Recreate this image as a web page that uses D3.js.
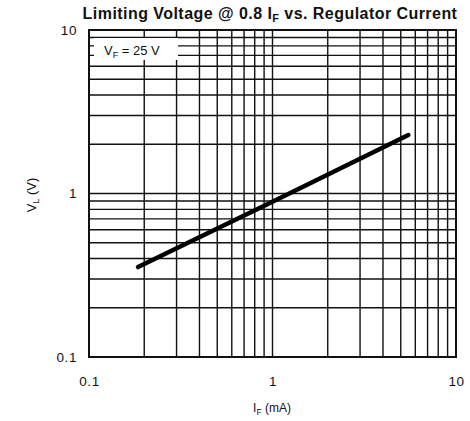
<!DOCTYPE html>
<html><head><meta charset="utf-8">
<script src="https://cdn.jsdelivr.net/npm/d3@7"></script>
<style>body{margin:0;background:#fff}</style>
</head><body>
<svg id="c" width="470" height="421"></svg>
<script>
const currentIF = [0.185, 1, 5.5];
const voltageVL = [0.355, 0.89, 2.28];
const xTicks = [0.1, 1, 10];
const yTicks = [0.1, 1, 10];
const xTickLabels = ["0.1", "1", "10"];
const yTickLabels = ["0.1", "1", "10"];

const svg = d3.select("#c");
const L = 89, R = 456, T = 30, B = 357;
const x = d3.scaleLog().domain([0.1, 10]).range([L, R]);
const y = d3.scaleLog().domain([0.1, 10]).range([B, T]);
const font = "Liberation Sans, Arial, sans-serif";

const gridVals = [];
for (const d of [0.1, 1]) for (let k = 1; k <= 10; k++) gridVals.push(+(d * k).toFixed(3));
const uniq = Array.from(new Set(gridVals));

const g = svg.append("g");
g.selectAll(".vx").data(uniq).join("line")
  .attr("x1", d => x(d)).attr("x2", d => x(d)).attr("y1", T).attr("y2", B)
  .attr("stroke", "#111").attr("stroke-width", 1.4);
g.selectAll(".hy").data(uniq).join("line")
  .attr("y1", d => y(d)).attr("y2", d => y(d)).attr("x1", L).attr("x2", R)
  .attr("stroke", "#111").attr("stroke-width", 1.4);

svg.append("rect").attr("x", 94).attr("y", 38).attr("width", 84).attr("height", 22).attr("fill", "#fff");
const lab = svg.append("text").attr("x", 104).attr("y", 55).attr("font-family", font).attr("font-size", 13).attr("fill", "#111");
lab.append("tspan").text("V");
lab.append("tspan").attr("font-size", 9).attr("dy", 3).text("F");
lab.append("tspan").attr("dy", -3).text(" = 25 V");

svg.append("rect").attr("x", L).attr("y", T).attr("width", R - L).attr("height", B - T)
  .attr("fill", "none").attr("stroke", "#111").attr("stroke-width", 2);

svg.append("path").datum(currentIF.map((d, i) => [d, voltageVL[i]]))
  .attr("d", d3.line().x(d => x(d[0])).y(d => y(d[1])))
  .attr("fill", "none").attr("stroke", "#000").attr("stroke-width", 4.5).attr("stroke-linecap", "round");

const xa = svg.append("g").attr("transform", `translate(0,${B})`)
  .call(d3.axisBottom(x).tickValues(xTicks).tickFormat((d, i) => xTickLabels[i]).tickSize(0).tickPadding(19));
const ya = svg.append("g").attr("transform", `translate(${L},0)`)
  .call(d3.axisLeft(y).tickValues(yTicks).tickFormat((d, i) => yTickLabels[i]).tickSize(0).tickPadding(12));
[xa, ya].forEach(a => { a.select(".domain").remove(); a.selectAll("text").attr("font-family", font).attr("font-size", 13.5).attr("letter-spacing", 0.6).attr("fill", "#111"); });

const t = svg.append("text").attr("x", 270).attr("y", 19).attr("text-anchor", "middle")
  .attr("font-family", font).attr("font-weight", "bold").attr("font-size", 16).attr("letter-spacing", 0.45).attr("fill", "#111");
t.append("tspan").text("Limiting Voltage @ 0.8 I");
t.append("tspan").attr("font-size", 11).attr("dy", 3).text("F");
t.append("tspan").attr("dy", -3).text(" vs. Regulator Current");

const xt = svg.append("text").attr("x", 272).attr("y", 412).attr("text-anchor", "middle")
  .attr("font-family", font).attr("font-size", 12).attr("fill", "#111");
xt.append("tspan").text("I");
xt.append("tspan").attr("font-size", 8.5).attr("dy", 3).text("F");
xt.append("tspan").attr("dy", -3).text(" (mA)");

const yt = svg.append("text").attr("transform", "translate(36,195) rotate(-90)").attr("text-anchor", "middle")
  .attr("font-family", font).attr("font-size", 13).attr("fill", "#111");
yt.append("tspan").text("V");
yt.append("tspan").attr("font-size", 9).attr("dy", 3).text("L");
yt.append("tspan").attr("dy", -3).text(" (V)");
</script>
</body></html>
